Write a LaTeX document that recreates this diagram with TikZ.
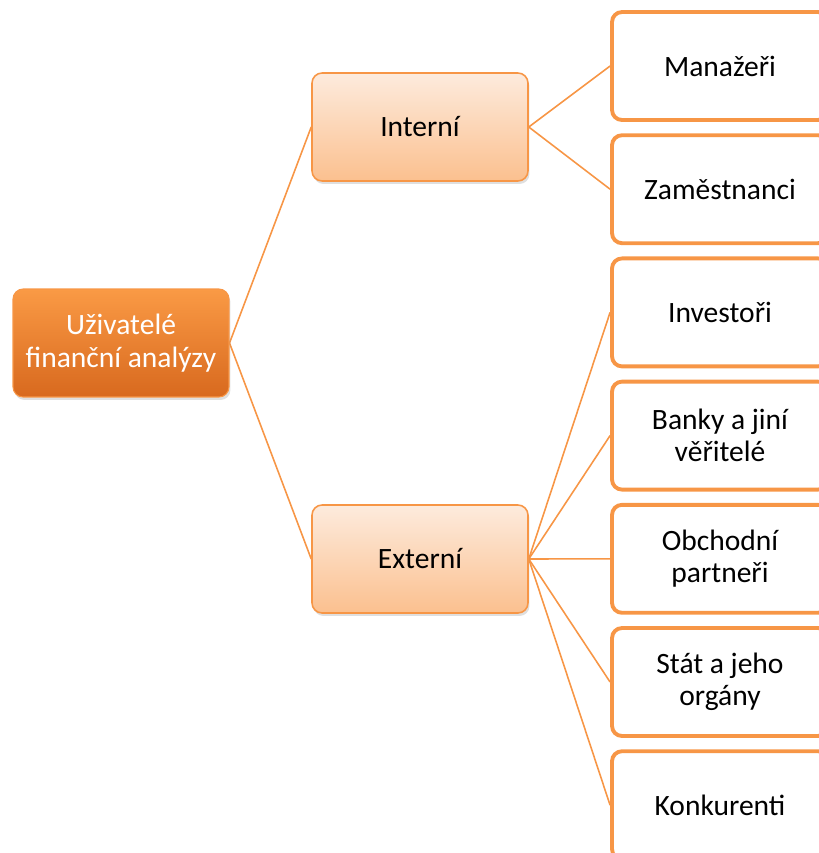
\documentclass[tikz,border=0pt]{standalone}
\usepackage{fontspec}
\setmainfont{Carlito}
\usetikzlibrary{positioning,shadows,backgrounds}
\definecolor{accent}{HTML}{F79646}
\definecolor{accentdark}{HTML}{D8691E}
\definecolor{accenttop}{HTML}{FA9A45}
\definecolor{peachlight}{HTML}{FDEBDD}
\definecolor{peach}{HTML}{FBC08F}
\tikzset{
  rootbox/.style={rounded corners=0.2cm,top color=accenttop,bottom color=accentdark,
    draw=accent,line width=0.6pt,text=white,align=center,
    minimum width=4.32cm,minimum height=2.16cm,
    drop shadow={shadow xshift=0.03cm,shadow yshift=-0.06cm,opacity=0.25}},
  midbox/.style={rounded corners=0.2cm,top color=peachlight,bottom color=peach,
    draw=accent,line width=0.9pt,align=center,
    minimum width=4.32cm,minimum height=2.16cm,
    drop shadow={shadow xshift=0.03cm,shadow yshift=-0.06cm,opacity=0.25}},
  leafbox/.style={rounded corners=0.2cm,fill=white,draw=accent,line width=2.2pt,
    align=center,minimum width=4.32cm,minimum height=2.16cm},
  link/.style={accent,line width=0.9pt}
}

\begin{document}
\begin{tikzpicture}[x=0.02cm,y=-0.02cm,font=\fontsize{16.8}{18.5}\selectfont]
  \useasboundingbox (0,0) rectangle (819,853);

  \node[rootbox] (uziv) at (121,343) {Uživatelé\\finanční analýzy};
  \node[midbox] (int) at (420,127) {Interní};
  \node[midbox] (ext) at (420,559) {Externí};
  \foreach \name/\txt [count=\i from 0] in {man/Manažeři,zam/Zaměstnanci,
      inv/Investoři,ban/Banky a jiní\\věřitelé,obc/Obchodní\\partneři,
      stat/Stát a jeho\\orgány,kon/Konkurenti}
    \node[leafbox] (\name) at (720,{66+123.2*\i}) {\txt};

  % links behind the boxes
  \begin{scope}[on background layer]
    \draw[link] (uziv.east) -- (int.west);
    \draw[link] (uziv.east) -- (ext.west);
    \foreach \name in {man,zam}
      \draw[link] (int.east) -- (\name.west);
    \foreach \name in {inv,ban,obc,stat,kon}
      \draw[link] (ext.east) -- (\name.west);
  \end{scope}
\end{tikzpicture}
\end{document}
